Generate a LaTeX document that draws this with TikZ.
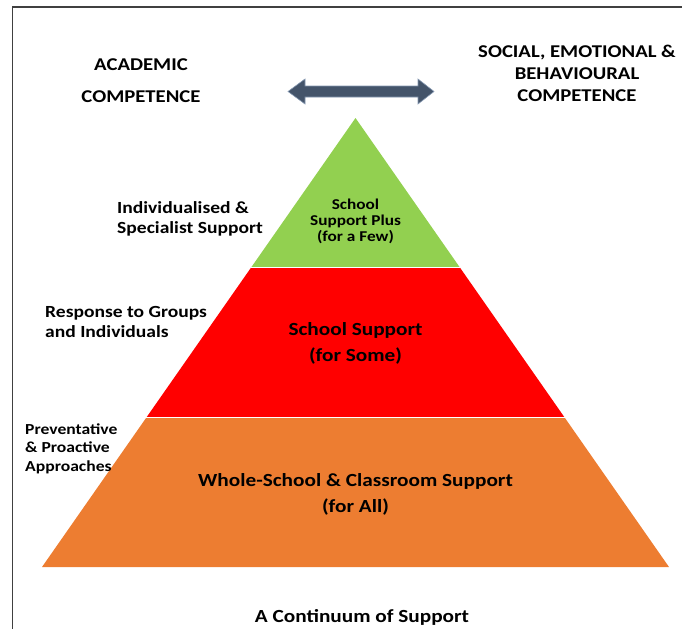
\documentclass[tikz,border=0pt]{standalone}
\usepackage{fontspec}
\setmainfont{Carlito}[FakeStretch=1.15]
\usetikzlibrary{calc,positioning}

\definecolor{leafgreen}{HTML}{92D050}
\definecolor{alertred}{HTML}{FF0000}
\definecolor{tierorange}{HTML}{ED7D31}
\definecolor{slate}{HTML}{44546A}
\definecolor{slateedge}{HTML}{8497B0}
\definecolor{framegray}{HTML}{404040}

\tikzset{
    head/.style = {align=center, anchor=base, inner sep=0pt,
                   font=\bfseries\fontsize{18}{22}\selectfont},
    side/.style = {align=left, anchor=base west, inner sep=0pt,
                   font=\bfseries\fontsize{17}{20}\selectfont},
    tier/.style = {align=center, anchor=base, inner sep=0pt,
                   font=\bfseries\fontsize{18.5}{25.5}\selectfont},
    small/.style = {font=\bfseries\fontsize{15}{16}\selectfont}
}

\begin{document}
\begin{tikzpicture}[x=1pt, y=-1pt]
  \useasboundingbox (0,0) rectangle (690,629);
  % frame
  \coordinate (fc) at (12,7);
  \coordinate (ft) at (682,7);
  \coordinate (fb) at (12,629);
  \draw[framegray, line width=1.2pt] (fc) -- (ft);
  \draw[framegray, line width=1pt] (fc) -- (fb);

  % pyramid
  \coordinate (apex) at (355.5,118);
  \coordinate (bl) at (42,567);
  \coordinate (br) at (669,567);
  \coordinate (l1) at ($(apex)!0.3333!(bl)$);
  \coordinate (r1) at ($(apex)!0.3333!(br)$);
  \coordinate (l2) at ($(apex)!0.6667!(bl)$);
  \coordinate (r2) at ($(apex)!0.6667!(br)$);
  \fill[leafgreen] (apex) -- (l1) -- (r1) -- cycle;
  \fill[alertred] (l1) -- (l2) -- (r2) -- (r1) -- cycle;
  \fill[tierorange] (l2) -- (bl) -- (br) -- (r2) -- cycle;
  \draw[white, line width=1.4pt] (l1) -- (r1) (l2) -- (r2);

  % two-way arrow
  \filldraw[fill=slate, draw=slateedge, line width=0.6pt]
    (288,91.5) -- (305,79) -- (305,86) -- (418,86) -- (418,79) -- (434,91.5)
    -- (418,104) -- (418,97) -- (305,97) -- (305,104) -- cycle;

  \node (acad) at (141,102) [head] {ACADEMIC\\[10pt]COMPETENCE};
  \node (sebc) at (577,101) [head] {SOCIAL, EMOTIONAL \&\\BEHAVIOURAL\\COMPETENCE};

  \node (indiv) at (117,233) [side] {Individualised \&\\Specialist Support};
  \node (resp) at (45,337) [side] {Response to Groups\\and Individuals};
  \node (prev) at (25,471) [side, font=\bfseries\fontsize{15.3}{18.5}\selectfont]
       {Preventative\\\& Proactive\\Approaches};

  \node (plus) at (355.5,241) [tier, small] {School\\Support Plus\\(for a Few)};
  \node (some) at (355.5,361) [tier] {School Support\\(for Some)};
  \node (all) at (355.5,512) [tier] {Whole-School \& Classroom Support\\(for All)};
  \node (cont) at (362,622) [tier] {A Continuum of Support};
\end{tikzpicture}
\end{document}
